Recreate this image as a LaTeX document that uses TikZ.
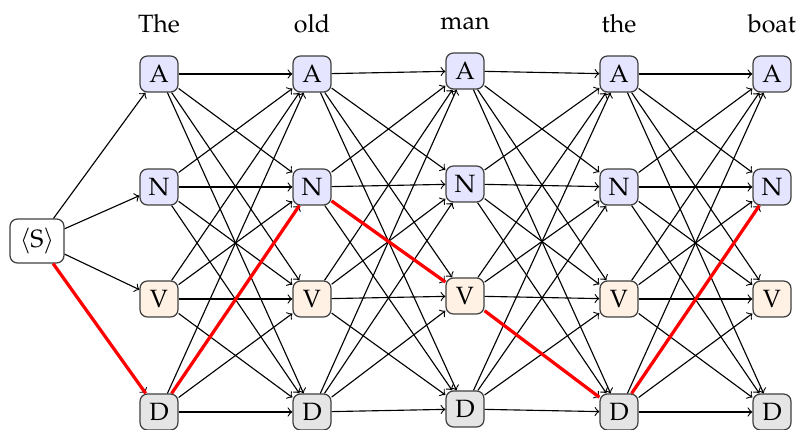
\documentclass[tikz,border=0pt]{standalone}
\usepackage[T1]{fontenc}
\usepackage{mathpazo}
\begin{document}
\begin{tikzpicture}[x=0.4pt,y=-0.4pt,
  tag/.style={draw=black!75, line width=0.5pt, rounded corners=3pt,
              minimum width=15.2pt, minimum height=14.4pt, inner sep=1pt},
  adj/.style={tag, fill=blue!10},
  noun/.style={tag, fill=blue!10},
  verb/.style={tag, fill=orange!10},
  det/.style={tag, fill=black!10},
  start/.style={tag, fill=white, minimum width=21.6pt, minimum height=17.6pt},
  word/.style={anchor=base, inner sep=0pt},
  trans/.style={->, line width=0.45pt},
  best/.style={red, line width=1.3pt}]
\useasboundingbox (0,0) rectangle (801,430);

% start state
\node[start] (S) at (37,241) {$\langle\mathrm{S}\rangle$};

% one column of tag states per word
\foreach \i/\x/\dy/\w in {1/159/0/The, 2/312/0/old, 3/465/-3/man, 4/619/0/the, 5/772/0/boat} {
  \node[word] (w\i) at (\x,33+\dy) {\w};
  \node[adj]  (A\i) at (\x,74+\dy)  {A};
  \node[noun] (N\i) at (\x,187+\dy) {N};
  \node[verb] (V\i) at (\x,299+\dy) {V};
  \node[det]  (D\i) at (\x,412+\dy) {D};
}

% transitions out of the start state
\foreach \b in {A,N,V,D}
  \draw[trans] (S) -- (\b1);

% all transitions between neighbouring columns
\foreach \i/\j in {1/2,2/3,3/4,4/5}
  \foreach \a in {A,N,V,D}
    \foreach \b in {A,N,V,D}
      \draw[trans] (\a\i) -- (\b\j);

% best path
\draw[best] (S) -- (D1);
\draw[best] (D1) -- (N2);
\draw[best] (N2) -- (V3);
\draw[best] (V3) -- (D4);
\draw[best] (D4) -- (N5);
\end{tikzpicture}
\end{document}
